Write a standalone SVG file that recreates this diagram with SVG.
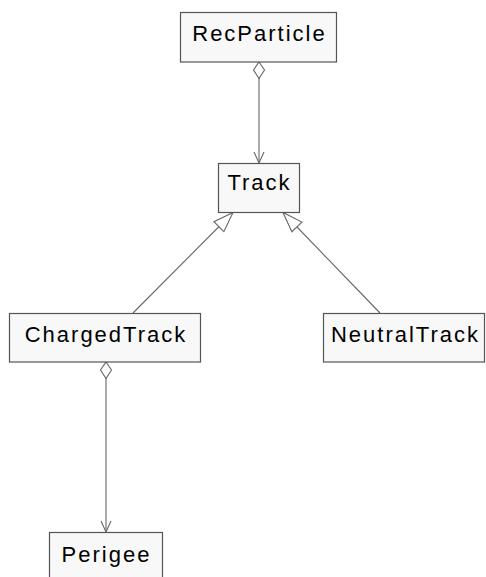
<svg xmlns="http://www.w3.org/2000/svg" width="486" height="577" viewBox="0 0 486 577">
<style>
.box{fill:#f8f8f8;stroke:#555;stroke-width:1.2}
.lbl{font-family:"Liberation Sans",Arial,sans-serif;font-size:22px;letter-spacing:2px;fill:#000}
.edge{fill:none;stroke:#666;stroke-width:1.1}
</style>
<defs>
<marker id="open" markerUnits="userSpaceOnUse" viewBox="-13 -7 14 14" refX="0" refY="0" markerWidth="14" markerHeight="14" orient="auto" overflow="visible">
<path d="M-11,-5 L0,0 L-11,5" fill="none" stroke="#666" stroke-width="1.1"/>
</marker>
<marker id="diamond" markerUnits="userSpaceOnUse" viewBox="-1 -7 19 14" refX="0" refY="0" markerWidth="19" markerHeight="14" orient="auto" overflow="visible">
<path d="M0,0 L8,-5.5 L16.5,0 L8,5.5 Z" fill="#fff" stroke="#666" stroke-width="1.1"/>
</marker>
<marker id="tri" markerUnits="userSpaceOnUse" viewBox="-22 -9 23 18" refX="0" refY="0" markerWidth="23" markerHeight="18" orient="auto" overflow="visible">
<path d="M0,0 L-20,-7 L-20,7 Z" fill="#fff" stroke="#666" stroke-width="1.1"/>
</marker>
</defs>
<g id="connectors">
<path class="edge" d="M259,62 L259,163" marker-start="url(#diamond)" marker-end="url(#open)"/>
<path class="edge" d="M106,362 L106,532" marker-start="url(#diamond)" marker-end="url(#open)"/>
<path class="edge" d="M133,313 L233,212.5" marker-end="url(#tri)"/>
<path class="edge" d="M380,313 L283,212.5" marker-end="url(#tri)"/>
</g>
<g id="RecParticle">
<rect class="box" x="180.5" y="12.5" width="156" height="49.5"/>
<text class="lbl" x="259.5" y="41" text-anchor="middle">RecParticle</text>
</g>
<g id="Track">
<rect class="box" x="218.5" y="163.5" width="81" height="49"/>
<text class="lbl" x="259.5" y="190" text-anchor="middle">Track</text>
</g>
<g id="ChargedTrack">
<rect class="box" x="9.5" y="313.5" width="191" height="48.5"/>
<text class="lbl" x="106" y="342" text-anchor="middle">ChargedTrack</text>
</g>
<g id="NeutralTrack">
<rect class="box" x="323.5" y="313.5" width="161" height="48.5"/>
<text class="lbl" x="405.5" y="342" text-anchor="middle">NeutralTrack</text>
</g>
<g id="Perigee">
<rect class="box" x="49.5" y="532.5" width="113" height="50"/>
<text class="lbl" x="106.5" y="562" text-anchor="middle">Perigee</text>
</g>
</svg>
